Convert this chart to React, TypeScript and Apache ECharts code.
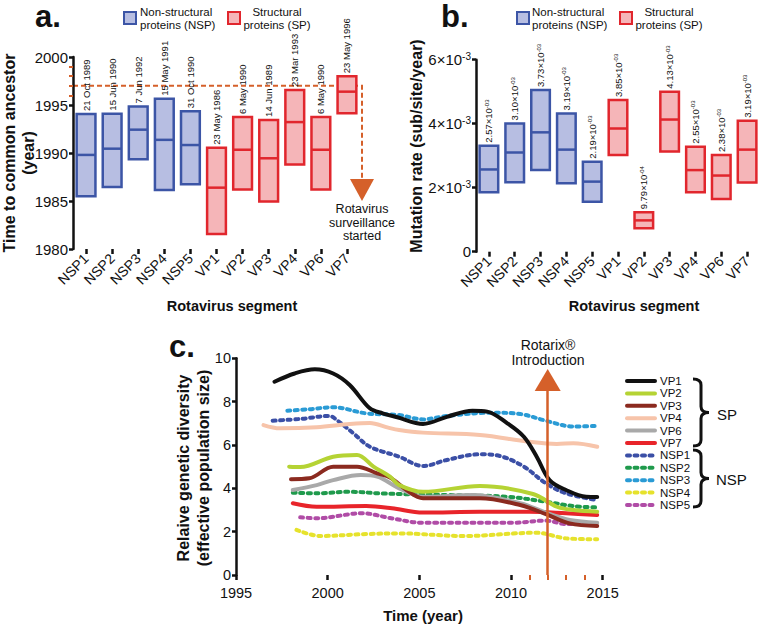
import React, { useEffect, useRef } from 'react';
import * as echarts from 'echarts';

const FONT = '"Liberation Sans", Arial, Helvetica, sans-serif';
const INK = '#111111';
const BLUE = '#3c55a6';
const BLUE_FILL = '#b7bee2';
const RED = '#e1262d';
const RED_FILL = '#f5b5b8';
const ORANGE = '#d5602a';

// ---------- Panel a / b categories ----------
const segments = ['NSP1', 'NSP2', 'NSP3', 'NSP4', 'NSP5', 'VP1', 'VP2', 'VP3', 'VP4', 'VP6', 'VP7'];

// Panel a: time to most recent common ancestor (year)
const tmrcaLow = [1985.5, 1986.45, 1989.35, 1986.15, 1986.75, 1981.55, 1986.2, 1984.95, 1988.8, 1986.2, 1994.15];
const tmrcaMedian = [1989.8, 1990.45, 1992.43, 1991.37, 1990.83, 1986.39, 1990.34, 1989.45, 1993.22, 1990.34, 1996.39];
const tmrcaHigh = [1994.05, 1994.1, 1994.85, 1995.65, 1994.35, 1990.55, 1993.75, 1993.45, 1996.55, 1993.75, 1998.0];
const tmrcaLabels = ['21 Oct 1989', '15 Jun 1990', '7 Jun 1992', '15 May 1991', '31 Oct 1990', '23 May 1986', '6 May 1990', '14 Jun 1989', '23 Mar 1993', '6 May 1990', '23 May 1996'];
const surveillanceStartYear = 1997;
const surveillanceTicks = [1996, 1997, 1998, 1999];

// Panel b: mutation rate (x10^-3 sub/site/year)
const rateLow = [1.86, 2.17, 2.55, 2.14, 1.56, 3.02, 0.73, 3.13, 1.86, 1.65, 2.16];
const rateMedian = [2.57, 3.10, 3.73, 3.19, 2.19, 3.85, 0.979, 4.13, 2.55, 2.38, 3.19];
const rateHigh = [3.31, 4.01, 5.05, 4.32, 2.81, 4.74, 1.23, 5.0, 3.28, 3.02, 4.09];
const rateLabelMantissa = ['2.57', '3.10', '3.73', '3.19', '2.19', '3.85', '9.79', '4.13', '2.55', '2.38', '3.19'];
const rateLabelExponent = ['-03', '-03', '-03', '-03', '-03', '-03', '-04', '-03', '-03', '-03', '-03'];

// Panel c: relative genetic diversity over time [year, value]
const vp1 = [[1997.1, 8.92], [1998.2, 9.3], [1999.3, 9.49], [2000.3, 9.3], [2001.2, 8.77], [2002.3, 7.69], [2003.0, 7.46], [2003.8, 7.28], [2005.2, 6.97], [2006.5, 7.3], [2007.9, 7.58], [2008.7, 7.54], [2009.8, 7.0], [2010.7, 6.38], [2011.4, 5.46], [2012.1, 4.38], [2013.0, 3.92], [2014.1, 3.61], [2014.7, 3.6]];
const vp2 = [[1997.9, 5.0], [1998.5, 4.98], [2000.3, 5.46], [2001.6, 5.54], [2002.5, 5.0], [2003.4, 4.54], [2003.9, 4.15], [2005.2, 3.84], [2008.3, 4.11], [2011.2, 3.74], [2012.5, 3.15], [2013.4, 3.0], [2014.7, 2.92]];
const vp3 = [[1998.0, 4.42], [1999.0, 4.46], [2000.3, 5.0], [2001.6, 5.0], [2002.7, 4.69], [2003.4, 4.5], [2004.3, 3.92], [2005.2, 3.54], [2008.3, 3.54], [2010.5, 3.23], [2011.9, 2.81], [2013.2, 2.38], [2014.7, 2.26]];
const vp4 = [[1996.5, 6.92], [1997.4, 6.77], [1999.4, 6.82], [2001.2, 6.97], [2002.3, 7.02], [2003.3, 6.8], [2003.9, 6.69], [2005.2, 6.57], [2008.3, 6.46], [2011.0, 6.15], [2012.5, 6.05], [2013.4, 6.08], [2014.7, 5.92]];
const vp6 = [[1998.1, 3.92], [1999.4, 4.15], [2000.3, 4.38], [2001.8, 4.61], [2002.7, 4.54], [2003.9, 4.0], [2005.2, 3.61], [2007.9, 3.69], [2010.5, 3.31], [2011.9, 2.88], [2013.2, 2.54], [2014.7, 2.41]];
const vp7 = [[1998.1, 3.31], [1999.4, 3.15], [2002.1, 3.18], [2003.5, 3.08], [2005.2, 2.88], [2008.3, 2.92], [2011.0, 2.92], [2013.0, 2.85], [2014.7, 2.77]];
const nsp1 = [[1997.0, 7.12], [1998.5, 7.2], [2000.1, 7.34], [2000.5, 7.15], [2001.4, 6.54], [2002.3, 5.92], [2003.9, 5.46], [2005.2, 5.03], [2006.5, 5.31], [2008.3, 5.57], [2009.4, 5.49], [2010.7, 5.0], [2011.9, 4.23], [2013.0, 3.77], [2014.7, 3.46]];
const nsp2 = [[1998.1, 3.8], [1999.4, 3.77], [2001.2, 3.84], [2003.0, 3.76], [2006.5, 3.69], [2009.8, 3.61], [2011.9, 3.38], [2013.4, 3.18], [2014.7, 3.12]];
const nsp3 = [[1997.8, 7.58], [1999.0, 7.65], [2000.3, 7.74], [2002.1, 7.46], [2003.9, 7.38], [2005.2, 7.18], [2006.5, 7.34], [2008.9, 7.49], [2010.5, 7.43], [2011.9, 7.12], [2013.4, 6.85], [2014.7, 6.88]];
const nsp4 = [[1998.3, 2.08], [1999.6, 1.8], [2002.1, 1.89], [2003.9, 1.92], [2007.4, 1.8], [2011.4, 1.95], [2013.0, 1.69], [2014.7, 1.65]];
const nsp5 = [[1998.5, 2.66], [1999.4, 2.62], [2001.9, 2.85], [2003.4, 2.63], [2005.2, 2.41], [2010.1, 2.41], [2011.9, 2.51], [2013.0, 2.35], [2014.7, 2.35]];
const rotarixYear = 2012;
const rotarixTicks = [2011, 2012, 2013, 2014];

const lineSeriesDefs = [
  { name: 'NSP5', data: nsp5, color: '#b04ca6', dashed: true },
  { name: 'NSP4', data: nsp4, color: '#e6e22c', dashed: true },
  { name: 'NSP2', data: nsp2, color: '#1f9a4c', dashed: true },
  { name: 'NSP1', data: nsp1, color: '#3b4fa6', dashed: true },
  { name: 'NSP3', data: nsp3, color: '#2a9bd5', dashed: true },
  { name: 'VP4', data: vp4, color: '#f7c4aa', dashed: false },
  { name: 'VP7', data: vp7, color: '#e8242a', dashed: false },
  { name: 'VP6', data: vp6, color: '#a9a9a9', dashed: false },
  { name: 'VP3', data: vp3, color: '#8b2a1f', dashed: false },
  { name: 'VP2', data: vp2, color: '#b5d334', dashed: false },
  { name: 'VP1', data: vp1, color: '#111111', dashed: false },
];
const legendOrder = ['VP1', 'VP2', 'VP3', 'VP4', 'VP6', 'VP7', 'NSP1', 'NSP2', 'NSP3', 'NSP4', 'NSP5'];

// ---------- layout ----------
const GA = { left: 73, top: 57, width: 287, height: 192 };
const GB = { left: 476, top: 59.7, width: 287, height: 192 };
const GC = { left: 236, top: 358.3, width: 366.7, height: 216.7 };

function bracePath(x0: number, y0: number, y1: number, xt: number) {
  const xm = (x0 + xt) / 2;
  const ym = (y0 + y1) / 2;
  return `M${x0} ${y0} Q${xm} ${y0} ${xm} ${y0 + 6} L${xm} ${ym - 6} Q${xm} ${ym} ${xt} ${ym} Q${xm} ${ym} ${xm} ${ym + 6} L${xm} ${y1 - 6} Q${xm} ${y1} ${x0} ${y1}`;
}
echarts.graphic.registerShape('braceSP', echarts.graphic.extendPath(bracePath(693, 379, 446, 709), {}));
echarts.graphic.registerShape('braceNSP', echarts.graphic.extendPath(bracePath(693, 450, 507, 709), {}));

function boxSeries(xi: number, yi: number, low: number[], med: number[], high: number[], labelStyle: (i: number) => any) {
  return {
    type: 'custom',
    xAxisIndex: xi,
    yAxisIndex: yi,
    silent: true,
    clip: false,
    data: segments.map((_, i) => [i, low[i], med[i], high[i]]),
    encode: { x: 0, y: [1, 2, 3] },
    renderItem: (params: any, api: any) => {
      const i = api.value(0);
      const lo = api.coord([i, api.value(1)]);
      const md = api.coord([i, api.value(2)]);
      const hi = api.coord([i, api.value(3)]);
      const bw = api.size([1, 0])[0] * 0.72;
      const isNSP = segments[i].startsWith('NSP');
      const stroke = isNSP ? BLUE : RED;
      const fill = isNSP ? BLUE_FILL : RED_FILL;
      const cx = lo[0];
      return {
        type: 'group',
        children: [
          { type: 'rect', shape: { x: cx - bw / 2, y: hi[1], width: bw, height: lo[1] - hi[1] }, style: { fill, stroke, lineWidth: 2.5 } },
          { type: 'line', shape: { x1: cx - bw / 2, y1: md[1], x2: cx + bw / 2, y2: md[1] }, style: { stroke, lineWidth: 2.5 } },
          { type: 'text', x: cx, y: hi[1] - 3, rotation: Math.PI / 2, style: labelStyle(params.dataIndex) },
        ],
      };
    },
  };
}

const axisLabelBase = { color: INK, fontFamily: FONT, formatter: (v: number) => String(v) };

export default function App() {
  const ref = useRef<HTMLDivElement>(null);
  useEffect(() => {
    if (!ref.current) return;
    const chart = echarts.init(ref.current, undefined, { renderer: 'svg' });

    const yA = (v: number) => GA.top + ((2000 - v) / 20) * GA.height;
    const surveillanceY = yA(surveillanceStartYear);
    const annX = GA.left + GA.width + 2;

    const txt = (x: number, y: number, text: string, o: any = {}) => ({
      type: 'text',
      x,
      y,
      rotation: o.rotation || 0,
      style: {
        text,
        fill: INK,
        fontFamily: FONT,
        fontSize: o.fontSize || 13,
        fontWeight: o.fontWeight || 'normal',
        align: o.align || 'left',
        verticalAlign: o.verticalAlign || 'middle',
        textAlign: o.align || 'left',
        textVerticalAlign: o.verticalAlign || 'middle',
      },
    });
    // multi-line text as separate single-line elements
    const lines = (x: number, y0: number, step: number, texts: string[], o: any = {}) =>
      texts.map((t, k) => txt(x, y0 + k * step, t, o));

    const graphics: any[] = [
      // panel letters
      txt(35, 16, 'a.', { fontSize: 31, fontWeight: 'bold' }),
      txt(441, 16, 'b.', { fontSize: 31, fontWeight: 'bold' }),
      txt(169, 346, 'c.', { fontSize: 31, fontWeight: 'bold' }),
      // legend a
      { type: 'rect', shape: { x: 124, y: 12, width: 12, height: 12 }, style: { fill: BLUE_FILL, stroke: BLUE, lineWidth: 2 } },
      ...lines(140, 12, 13, ['Non-structural', 'proteins (NSP)'], { fontSize: 11.5 }),
      { type: 'rect', shape: { x: 228, y: 12, width: 12, height: 12 }, style: { fill: RED_FILL, stroke: RED, lineWidth: 2 } },
      ...lines(277, 12, 13, ['Structural', 'proteins (SP)'], { fontSize: 11.5, align: 'center' }),
      // legend b
      { type: 'rect', shape: { x: 517, y: 12, width: 12, height: 12 }, style: { fill: BLUE_FILL, stroke: BLUE, lineWidth: 2 } },
      ...lines(532, 12, 13, ['Non-structural', 'proteins (NSP)'], { fontSize: 11.5 }),
      { type: 'rect', shape: { x: 620, y: 12, width: 12, height: 12 }, style: { fill: RED_FILL, stroke: RED, lineWidth: 2 } },
      ...lines(669, 12, 13, ['Structural', 'proteins (SP)'], { fontSize: 11.5, align: 'center' }),
      // axis titles
      txt(9, 153, 'Time to common ancestor', { fontSize: 16, fontWeight: 'bold', rotation: Math.PI / 2, align: 'center' }),
      txt(28, 153, '(year)', { fontSize: 16, fontWeight: 'bold', rotation: Math.PI / 2, align: 'center' }),
      txt(416, 146, 'Mutation rate (sub/site/year)', { fontSize: 16, fontWeight: 'bold', rotation: Math.PI / 2, align: 'center' }),
      txt(183, 468, 'Relaive genetic diversity', { fontSize: 16, fontWeight: 'bold', rotation: Math.PI / 2, align: 'center' }),
      txt(203, 468, '(effective population size)', { fontSize: 16, fontWeight: 'bold', rotation: Math.PI / 2, align: 'center' }),
      txt(232, 306, 'Rotavirus segment', { fontSize: 14.5, fontWeight: 'bold', align: 'center' }),
      txt(634, 306, 'Rotavirus segment', { fontSize: 14.5, fontWeight: 'bold', align: 'center' }),
      txt(423, 615, 'Time (year)', { fontSize: 15, fontWeight: 'bold', align: 'center' }),
      // surveillance annotation (panel a)
      {
        type: 'polyline',
        shape: { points: [[GA.left, surveillanceY], [annX, surveillanceY], [annX, 180]] },
        style: { stroke: ORANGE, lineWidth: 2, lineDash: [5, 3], fill: 'none' },
      },
      { type: 'polygon', shape: { points: [[annX - 12, 179], [annX + 12, 179], [annX, 201]] }, style: { fill: ORANGE } },
      ...lines(annX, 209, 13.5, ['Rotavirus', 'surveillance', 'started'], { fontSize: 12.5, align: 'center' }),
      // Rotarix annotation (panel c)
      ...lines(548, 345, 14.5, ['Rotarix®', 'Introduction'], { fontSize: 14, align: 'center' }),
      // braces
      { type: 'braceSP', x: 0, y: 0, style: { stroke: INK, fill: 'none', lineWidth: 3 } },
      { type: 'braceNSP', x: 0, y: 0, style: { stroke: INK, fill: 'none', lineWidth: 3 } },
      txt(717, 414, 'SP', { fontSize: 15 }),
      txt(716, 479, 'NSP', { fontSize: 15 }),
    ];

    const catAxis = (grid: number) => ({
      gridIndex: grid,
      type: 'category',
      data: segments,
      boundaryGap: true,
      axisLine: { show: false },
      axisTick: { show: true, alignWithLabel: true, length: 5, lineStyle: { color: INK, width: 2.5 } },
      axisLabel: { color: INK, fontFamily: FONT, fontSize: 14, rotate: 45, margin: 7, interval: 0 },
      splitLine: { show: false },
    });

    const lineSeries = lineSeriesDefs.map((d, k) => ({
      type: 'line',
      name: d.name,
      xAxisIndex: 2,
      yAxisIndex: 3,
      data: d.data,
      smooth: 0.35,
      symbol: 'none',
      silent: true,
      z: 2 + k * 0.01,
      itemStyle: { color: d.color },
      lineStyle: { color: d.color, width: 4, type: d.dashed ? [3, 4.5] : 'solid', cap: 'round', join: 'round' },
    }));

    chart.setOption({
      animation: false,
      textStyle: { fontFamily: FONT },
      grid: [
        { ...GA, containLabel: false },
        { ...GB, containLabel: false },
        { ...GC, containLabel: false },
      ],
      xAxis: [
        catAxis(0),
        catAxis(1),
        {
          gridIndex: 2, type: 'value', position: 'bottom', min: 1995, max: 2015, interval: 5,
          axisLine: { show: false },
          axisTick: { show: true, length: 5, lineStyle: { color: INK, width: 2.5 } },
          axisLabel: { ...axisLabelBase, fontSize: 14.5, margin: 10 },
          splitLine: { show: false },
        },
        {
          gridIndex: 2, type: 'value', position: 'bottom', min: 1995, max: 2015,
          axisLine: { show: false },
          axisTick: { show: true, customValues: rotarixTicks, length: 5, lineStyle: { color: ORANGE, width: 2 } },
          axisLabel: { show: false },
          splitLine: { show: false },
        },
      ],
      yAxis: [
        {
          gridIndex: 0, type: 'value', position: 'left', min: 1980, max: 2000, interval: 5,
          axisLine: { show: true, lineStyle: { color: INK, width: 2.5 } },
          axisTick: { show: true, length: 4, lineStyle: { color: INK, width: 2.5 } },
          axisLabel: { ...axisLabelBase, fontSize: 15, margin: 5 },
          splitLine: { show: false },
        },
        {
          gridIndex: 0, type: 'value', position: 'left', min: 1980, max: 2000,
          axisLine: { show: false },
          axisTick: { show: true, customValues: surveillanceTicks, length: 4, lineStyle: { color: ORANGE, width: 2 } },
          axisLabel: { show: false },
          splitLine: { show: false },
        },
        {
          gridIndex: 1, type: 'value', position: 'left', min: 0, max: 6, interval: 2,
          axisLine: { show: true, lineStyle: { color: INK, width: 2.5 } },
          axisTick: { show: true, length: 4, lineStyle: { color: INK, width: 2.5 } },
          axisLabel: {
            color: INK,
            fontFamily: FONT,
            margin: 5,
            formatter: (v: number) => (v === 0 ? '{m|0}' : `{m|${v}×10}{s|-3}`),
            rich: {
              m: { fontSize: 15, color: INK, fontFamily: FONT },
              s: { fontSize: 10, color: INK, fontFamily: FONT, verticalAlign: 'top', padding: [0, 0, 7, 0] },
            },
          },
          splitLine: { show: false },
        },
        {
          gridIndex: 2, type: 'value', position: 'left', min: 0, max: 10, interval: 2,
          axisLine: { show: true, lineStyle: { color: INK, width: 2.5 } },
          axisTick: { show: true, length: 4, lineStyle: { color: INK, width: 2.5 } },
          axisLabel: { ...axisLabelBase, fontSize: 14.5, margin: 5 },
          splitLine: { show: false },
        },
      ],
      legend: {
        data: legendOrder,
        orient: 'vertical',
        left: 625,
        top: 375,
        itemWidth: 28,
        itemHeight: 12,
        itemGap: 0.4,
        padding: 0,
        selectedMode: false,
        itemStyle: { opacity: 0 },
        lineStyle: { width: 4 },
        textStyle: { fontSize: 11.5, color: INK, fontFamily: FONT, lineHeight: 12 },
      },
      series: [
        boxSeries(0, 0, tmrcaLow, tmrcaMedian, tmrcaHigh, (i) => ({
          text: tmrcaLabels[i],
          fill: INK,
          fontFamily: FONT,
          fontSize: 9.5,
          align: 'left',
          verticalAlign: 'middle',
          textAlign: 'left',
          textVerticalAlign: 'middle',
        })),
        boxSeries(1, 2, rateLow, rateMedian, rateHigh, (i) => ({
          text: `{m|${rateLabelMantissa[i]}×10}{e|${rateLabelExponent[i]}}`,
          rich: {
            m: { fontSize: 9.5, fill: INK, fontFamily: FONT },
            e: { fontSize: 6, fill: INK, fontFamily: FONT, verticalAlign: 'top', padding: [0, 0, 4, 0] },
          },
          fill: INK,
          fontFamily: FONT,
          align: 'left',
          verticalAlign: 'middle',
          textAlign: 'left',
          textVerticalAlign: 'middle',
        })),
        ...lineSeries,
        {
          type: 'line',
          name: 'rotarix',
          xAxisIndex: 2,
          yAxisIndex: 3,
          data: [],
          z: 10,
          markLine: {
            silent: true,
            symbol: ['none', 'triangle'],
            symbolSize: [26, 22],
            label: { show: false },
            lineStyle: { color: ORANGE, width: 2.5, type: 'solid' },
            emphasis: { disabled: true },
            data: [[{ coord: [rotarixYear, 0] }, { coord: [rotarixYear, 9.0] }]],
          },
        },
      ],
      graphic: graphics,
    });
    return () => chart.dispose();
  }, []);
  return <div ref={ref} style={{ position: 'absolute', left: 0, top: 0, width: 760, height: 627, background: '#fff' }} />;
}
